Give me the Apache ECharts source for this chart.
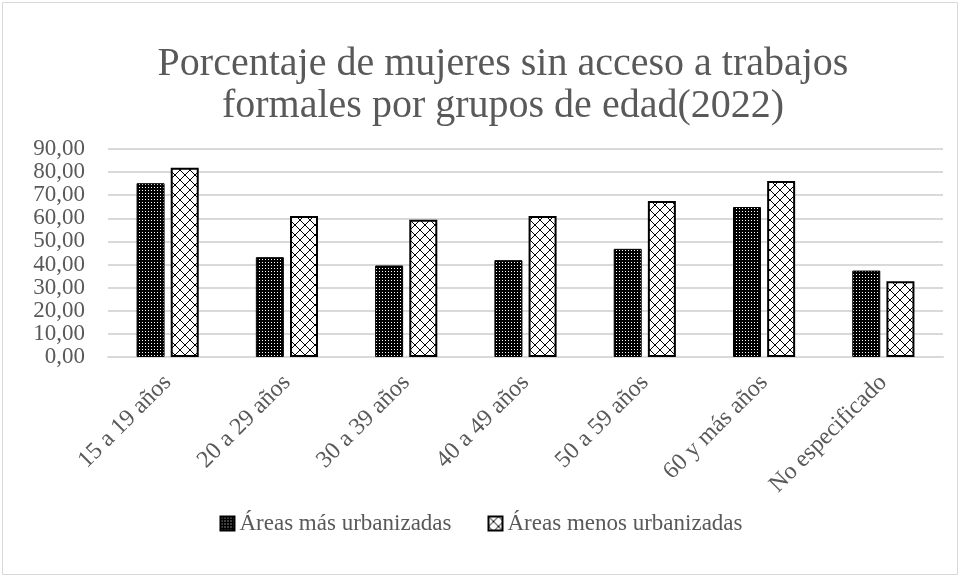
<!DOCTYPE html>
<html>
<head>
<meta charset="utf-8">
<script src="https://cdn.jsdelivr.net/npm/echarts@6/dist/echarts.min.js"></script>
<style>
  html, body { margin: 0; padding: 0; background: #fff; }
  #chart { width: 962px; height: 580px; }
</style>
</head>
<body>
<div id="chart"></div>
<script>
var categories = ['15 a 19 años', '20 a 29 años', '30 a 39 años', '40 a 49 años',
                  '50 a 59 años', '60 y más años', 'No especificado'];
var masUrbanizadas = [75.2, 43.2, 39.6, 41.9, 46.8, 64.9, 37.4];
var menosUrbanizadas = [81.9, 61.0, 59.4, 61.0, 67.5, 76.2, 32.8];
var seriesNames = ['Áreas más urbanizadas', 'Áreas menos urbanizadas'];
var titleText = 'Porcentaje de mujeres sin acceso a trabajos\nformales por grupos de edad(2022)';

// pattern fills, drawn once on small canvases
function dotPattern() {
    var c = document.createElement('canvas');
    c.width = 3; c.height = 3;
    var ctx = c.getContext('2d');
    ctx.fillStyle = '#000';
    ctx.fillRect(0, 0, 3, 3);
    ctx.fillStyle = '#fff';
    ctx.fillRect(1, 1, 1, 1);
    return { image: c, repeat: 'repeat' };
}

function crossPattern() {
    var c = document.createElement('canvas');
    c.width = 10; c.height = 10;
    var ctx = c.getContext('2d');
    ctx.fillStyle = '#fff';
    ctx.fillRect(0, 0, 10, 10);
    ctx.strokeStyle = '#000';
    ctx.lineWidth = 1;
    ctx.beginPath();
    ctx.moveTo(0, 0); ctx.lineTo(10, 10);
    ctx.moveTo(10, 0); ctx.lineTo(0, 10);
    ctx.stroke();
    return { image: c, repeat: 'repeat' };
}

var font = 'Liberation Serif';
var grey = '#595959';

var chart = echarts.init(document.getElementById('chart'));
chart.setOption({
    animation: false,
    title: {
        text: titleText,
        left: 498,
        textAlign: 'center',
        top: 38,
        textStyle: { fontFamily: font, fontSize: 40, fontWeight: 'normal', color: grey, lineHeight: 42 }
    },
    legend: {
        bottom: 40,
        left: 'center',
        itemWidth: 14,
        itemHeight: 14,
        itemGap: 36,
        icon: 'rect',
        textStyle: { fontFamily: font, fontSize: 23, color: grey },
        data: seriesNames
    },
    graphic: [{
        type: 'rect',
        shape: { x: 2.5, y: 2.5, width: 955, height: 572 },
        style: { fill: 'none', stroke: '#d9d9d9', lineWidth: 1 },
        silent: true
    }],
    grid: { left: 108, right: 19, top: 149, bottom: 223 },
    xAxis: {
        type: 'category',
        data: categories,
        axisLine: { lineStyle: { color: '#d9d9d9', width: 2 } },
        axisTick: { show: false },
        axisLabel: { rotate: 45, fontFamily: font, fontSize: 24, color: grey, margin: 22 }
    },
    yAxis: {
        type: 'value',
        min: 0,
        max: 90,
        interval: 10,
        axisLine: { show: false },
        axisTick: { show: false },
        splitLine: { lineStyle: { color: '#d9d9d9', width: 2 } },
        axisLabel: {
            fontFamily: font, fontSize: 23, color: grey, margin: 23,
            showMinLabel: true, showMaxLabel: true, hideOverlap: false,
            formatter: function(v) { return v.toFixed(2).replace('.', ','); }
        }
    },
    series: [{
        name: seriesNames[0],
        type: 'bar',
        data: masUrbanizadas,
        barWidth: 28,
        barGap: '22%',
        itemStyle: { color: dotPattern(), borderColor: '#000', borderWidth: 1 }
    }, {
        name: seriesNames[1],
        type: 'bar',
        data: menosUrbanizadas,
        barWidth: 28,
        itemStyle: { color: crossPattern(), borderColor: '#000', borderWidth: 2 }
    }]
});

window.addEventListener('resize', function() { chart.resize(); });
</script>
</body>
</html>
